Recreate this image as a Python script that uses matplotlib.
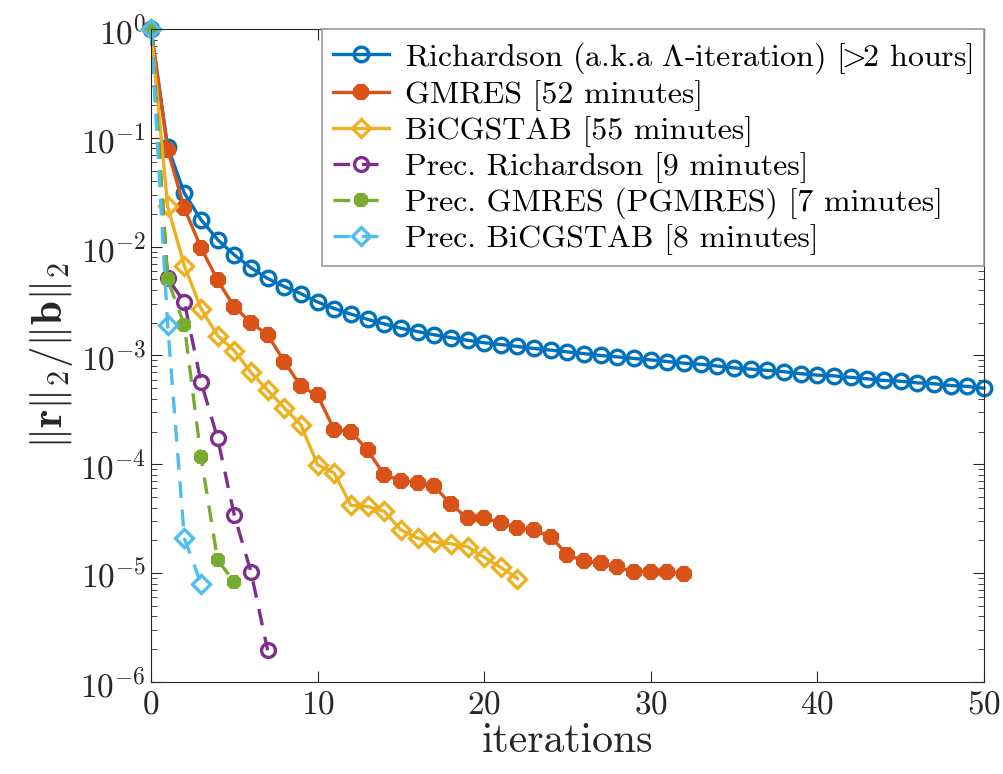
import numpy as np
import matplotlib.pyplot as plt

plt.rcParams['font.family'] = 'serif'
plt.rcParams['font.serif'] = ['cmr10']
plt.rcParams['mathtext.fontset'] = 'cm'
plt.rcParams['axes.formatter.use_mathtext'] = True

# residual histories
rich = [1.0, 0.083, 0.031, 0.0177, 0.0116, 0.0084, 0.0064, 0.0051, 0.0043, 0.0037,
        0.0031, 0.0027, 0.0024, 0.00215, 0.00195, 0.00178, 0.00166, 0.00155, 0.00146, 0.00138,
        0.00131, 0.00126, 0.00121, 0.00116, 0.00112, 0.00108, 0.00104, 0.00100, 0.00097, 0.00094,
        0.00091, 0.00088, 0.00085, 0.00083, 0.00080, 0.00077, 0.00075, 0.00073, 0.00071, 0.00068,
        0.00066, 0.00065, 0.00063, 0.00061, 0.00059, 0.00058, 0.00056, 0.00055, 0.00053, 0.00052,
        0.00050]
gmres = [1.0, 0.078, 0.0226, 0.0098, 0.0049, 0.0028, 0.0020, 0.00155, 0.00088, 0.00052,
         0.00043, 0.000207, 0.000200, 0.000135, 8.0e-5, 7.1e-5, 6.8e-5, 6.3e-5, 4.3e-5, 3.2e-5,
         3.2e-5, 2.9e-5, 2.6e-5, 2.5e-5, 2.16e-5, 1.47e-5, 1.30e-5, 1.23e-5, 1.14e-5, 1.03e-5,
         1.03e-5, 1.03e-5, 9.9e-6]
bicg = [1.0, 0.0234, 0.0067, 0.0027, 0.00152, 0.00111, 7.0e-4, 4.8e-4, 3.3e-4, 2.3e-4,
        9.9e-5, 8.3e-5, 4.2e-5, 4.1e-5, 3.7e-5, 2.5e-5, 2.1e-5, 1.94e-5, 1.86e-5, 1.75e-5,
        1.40e-5, 1.13e-5, 8.9e-6]
p_rich = [1.0, 0.0051, 0.0031, 5.75e-4, 1.73e-4, 3.4e-5, 1.03e-5, 1.96e-6]
p_gmres = [1.0, 0.0050, 0.0019, 1.17e-4, 1.32e-5, 8.3e-6]
p_bicg = [1.0, 0.0019, 2.1e-5, 8.0e-6]

labels = [r'Richardson (a.k.a $\Lambda$-iteration) [$\!\!>\!\!$2 hours]',
          'GMRES [52 minutes]',
          'BiCGSTAB [55 minutes]',
          'Prec. Richardson [9 minutes]',
          'Prec. GMRES (PGMRES) [7 minutes]',
          'Prec. BiCGSTAB [8 minutes]']

fig = plt.figure(figsize=(10.04, 7.74), dpi=100)
ax = fig.add_axes([0.1504, 0.1189, 0.8296, 0.8436])

dash = (0, (5, 3.5))
lw = 2.4
ax.plot(np.arange(len(rich)), rich, '-o', color='#0072BD', lw=lw, ms=10.5, mfc='none', mew=2.4,
        label=labels[0], clip_on=False)
ax.plot(np.arange(len(gmres)), gmres, '-8', color='#D95319', lw=lw, ms=10.5, mew=1.5,
        label=labels[1], clip_on=False)
ax.plot(np.arange(len(bicg)), bicg, '-D', color='#EDB120', lw=lw, ms=9.5, mfc='none', mew=2.4,
        label=labels[2], clip_on=False)
ax.plot(np.arange(len(p_rich)), p_rich, 'o', ls=dash, color='#7E2F8E', lw=lw, ms=10, mfc='none',
        mew=2.4, label=labels[3], clip_on=False)
ax.plot(np.arange(len(p_gmres)), p_gmres, '8', ls=dash, color='#77AC30', lw=lw, ms=9.5, mew=1.5,
        label=labels[4], clip_on=False)
ax.plot(np.arange(len(p_bicg)), p_bicg, 'D', ls=dash, color='#4DBEEE', lw=lw, ms=9.5, mfc='none',
        mew=2.4, label=labels[5], clip_on=False)

ax.set_yscale('log')
ax.set_xlim(0, 50)
ax.set_ylim(1e-6, 1)
ax.set_xticks([0, 10, 20, 30, 40, 50])
ax.tick_params(which='both', direction='in', top=True, right=True, labelsize=24, colors='#262626')
ax.tick_params(which='major', length=8)
ax.tick_params(which='minor', length=4)
ax.tick_params(axis='x', pad=6)
for s in ax.spines.values():
    s.set_color('#262626')
    s.set_linewidth(0.8)

ax.set_xlabel('iterations', fontsize=30, color='#262626', labelpad=2)
ax.set_ylabel(r'$\Vert\mathbf{r}\Vert_2/\Vert\mathbf{b}\Vert_2$', fontsize=31, color='#262626')

leg = ax.legend(loc='upper right', bbox_to_anchor=(1, 1), borderaxespad=0, fontsize=23,
                fancybox=False, edgecolor='#999999', framealpha=1, handlelength=1.75,
                handletextpad=0.5, labelspacing=0.15, borderpad=0.35)
leg.get_frame().set_linewidth(1.2)

fig.savefig('out.png', dpi=100)
